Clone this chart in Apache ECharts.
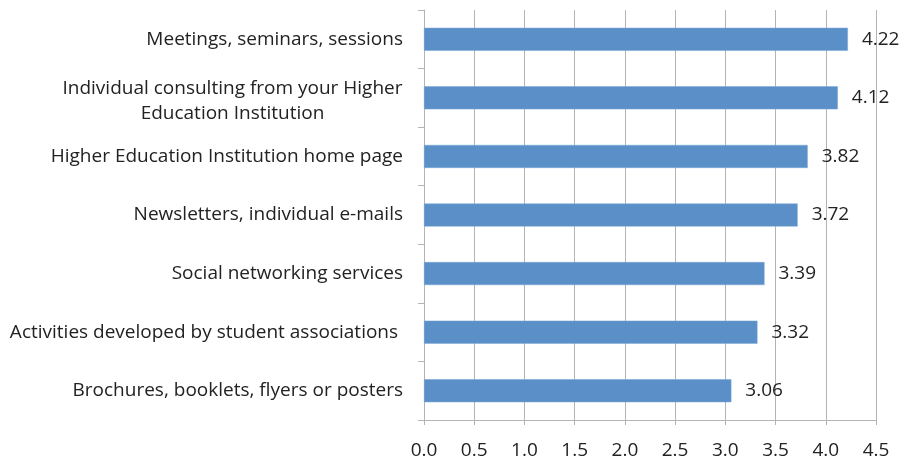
<!DOCTYPE html>
<html>
<head>
<meta charset="utf-8">
<script src="https://cdn.jsdelivr.net/npm/echarts@6/dist/echarts.min.js"></script>
<style>
  html, body { margin: 0; padding: 0; background: #fff; }
  #chart { width: 904px; height: 460px; }
</style>
</head>
<body>
<div id="chart"></div>
<script>
// Information channels, listed top to bottom
const categories = [
  'Meetings, seminars, sessions',
  'Individual consulting from your Higher\nEducation Institution',
  'Higher Education Institution home page',
  'Newsletters, individual e-mails',
  'Social networking services',
  'Activities developed by student associations ',
  'Brochures, booklets, flyers or posters'
];
const scores = [4.22, 4.12, 3.82, 3.72, 3.39, 3.32, 3.06];
const xTicks = ['0.0', '0.5', '1.0', '1.5', '2.0', '2.5', '3.0', '3.5', '4.0', '4.5'];

const FONT = '"Open Sans", Lato, sans-serif';
const FONT_SIZE = 19;
const GRID_COLOR = '#b4b4b4';
const TEXT_COLOR = '#222';

// Width of the widest line of a wrapped label, so the lines can be centred on each other
function widestLine(text) {
  const ctx = document.createElement('canvas').getContext('2d');
  ctx.font = FONT_SIZE + 'px ' + FONT;
  return Math.ceil(Math.max(...text.split('\n').map((s) => ctx.measureText(s).width)));
}
const wrappedWidth = Math.max(...categories.filter((c) => c.includes('\n')).map(widestLine));

const chart = echarts.init(document.getElementById('chart'), null, { renderer: 'canvas' });

chart.setOption({
  animation: false,
  backgroundColor: '#ffffff',
  grid: { left: 424, right: 28, top: 10, bottom: 37, containLabel: false },
  xAxis: {
    type: 'value',
    min: 0,
    max: 4.5,
    interval: 0.5,
    axisLine: { show: true, lineStyle: { color: GRID_COLOR, width: 1 } },
    axisTick: { show: true, length: 5, lineStyle: { color: GRID_COLOR } },
    splitLine: { show: true, lineStyle: { color: GRID_COLOR, width: 1 } },
    axisLabel: {
      margin: 21,
      color: TEXT_COLOR,
      fontFamily: FONT,
      fontSize: FONT_SIZE,
      formatter: (v) => xTicks[Math.round(v / 0.5)]
    }
  },
  yAxis: {
    type: 'category',
    data: categories,
    inverse: true,
    boundaryGap: true,
    axisLine: { show: true, lineStyle: { color: GRID_COLOR, width: 1 } },
    axisTick: { show: true, length: 6, inside: false, lineStyle: { color: GRID_COLOR } },
    splitLine: { show: false },
    axisLabel: {
      margin: 21,
      color: TEXT_COLOR,
      fontFamily: FONT,
      fontSize: FONT_SIZE,
      lineHeight: 25,
      formatter: (v) => v.indexOf('\n') >= 0 ? '{two|' + v + '}' : v,
      rich: {
        two: {
          width: wrappedWidth, align: 'center', fontFamily: FONT,
          fontSize: FONT_SIZE, lineHeight: 25, color: TEXT_COLOR,
          padding: [6, 0, 0, 0]
        }
      }
    }
  },
  series: [{
    type: 'bar',
    data: scores,
    barWidth: 23,
    itemStyle: { color: '#5b8fc7', borderColor: '#79a6d6', borderWidth: 0.5 },
    label: {
      show: true,
      position: 'right',
      distance: 14,
      color: TEXT_COLOR,
      fontFamily: FONT,
      fontSize: FONT_SIZE,
      formatter: (p) => p.value.toFixed(2)
    }
  }]
});
</script>
</body>
</html>
